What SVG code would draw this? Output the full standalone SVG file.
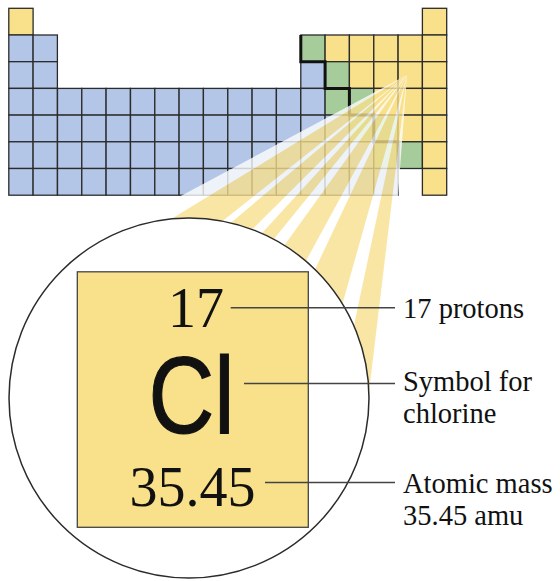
<svg xmlns="http://www.w3.org/2000/svg" width="560" height="581" viewBox="0 0 560 581">
<style>
.c{stroke:#2b2b2b;stroke-width:1.3}
.b{fill:#b3c6e7}
.y{fill:#f9e08b}
.g{fill:#a6cc9c}
.lbl{font-family:"Liberation Serif","Times New Roman",serif;font-size:28.5px;fill:#111}
.big{font-family:"Liberation Serif","Times New Roman",serif;font-size:56px;fill:#111;text-anchor:middle}
.lead{stroke:#444;stroke-width:1.5;fill:none}
</style>
<rect width="560" height="581" fill="#fff"/>
<g id="table">
<g class="c">
<rect class="y" x="8.8" y="8.3" width="24.3" height="26.7"/>
<rect class="y" x="422.4" y="8.3" width="24.3" height="26.7"/>

<rect class="b" x="8.8" y="35" width="24.3" height="26.7"/>
<rect class="b" x="33.1" y="35" width="24.3" height="26.7"/>
<rect class="g" x="300.8" y="35" width="24.3" height="26.7"/>
<rect class="y" x="325.1" y="35" width="24.3" height="26.7"/>
<rect class="y" x="349.4" y="35" width="24.3" height="26.7"/>
<rect class="y" x="373.8" y="35" width="24.3" height="26.7"/>
<rect class="y" x="398.1" y="35" width="24.3" height="26.7"/>
<rect class="y" x="422.4" y="35" width="24.3" height="26.7"/>

<rect class="b" x="8.8" y="61.7" width="24.3" height="26.7"/>
<rect class="b" x="33.1" y="61.7" width="24.3" height="26.7"/>
<rect class="b" x="300.8" y="61.7" width="24.3" height="26.7"/>
<rect class="g" x="325.1" y="61.7" width="24.3" height="26.7"/>
<rect class="y" x="349.4" y="61.7" width="24.3" height="26.7"/>
<rect class="y" x="373.8" y="61.7" width="24.3" height="26.7"/>
<rect class="y" x="398.1" y="61.7" width="24.3" height="26.7"/>
<rect class="y" x="422.4" y="61.7" width="24.3" height="26.7"/>

<rect class="b" x="8.8" y="88.4" width="24.3" height="26.7"/>
<rect class="b" x="33.1" y="88.4" width="24.3" height="26.7"/>
<rect class="b" x="57.5" y="88.4" width="24.3" height="26.7"/>
<rect class="b" x="81.8" y="88.4" width="24.3" height="26.7"/>
<rect class="b" x="106.1" y="88.4" width="24.3" height="26.7"/>
<rect class="b" x="130.5" y="88.4" width="24.3" height="26.7"/>
<rect class="b" x="154.8" y="88.4" width="24.3" height="26.7"/>
<rect class="b" x="179.1" y="88.4" width="24.3" height="26.7"/>
<rect class="b" x="203.4" y="88.4" width="24.3" height="26.7"/>
<rect class="b" x="227.8" y="88.4" width="24.3" height="26.7"/>
<rect class="b" x="252.1" y="88.4" width="24.3" height="26.7"/>
<rect class="b" x="276.4" y="88.4" width="24.3" height="26.7"/>
<rect class="b" x="300.8" y="88.4" width="24.3" height="26.7"/>
<rect class="g" x="325.1" y="88.4" width="24.3" height="26.7"/>
<rect class="g" x="349.4" y="88.4" width="24.3" height="26.7"/>
<rect class="y" x="373.8" y="88.4" width="24.3" height="26.7"/>
<rect class="y" x="398.1" y="88.4" width="24.3" height="26.7"/>
<rect class="y" x="422.4" y="88.4" width="24.3" height="26.7"/>

<rect class="b" x="8.8" y="115.1" width="24.3" height="26.7"/>
<rect class="b" x="33.1" y="115.1" width="24.3" height="26.7"/>
<rect class="b" x="57.5" y="115.1" width="24.3" height="26.7"/>
<rect class="b" x="81.8" y="115.1" width="24.3" height="26.7"/>
<rect class="b" x="106.1" y="115.1" width="24.3" height="26.7"/>
<rect class="b" x="130.5" y="115.1" width="24.3" height="26.7"/>
<rect class="b" x="154.8" y="115.1" width="24.3" height="26.7"/>
<rect class="b" x="179.1" y="115.1" width="24.3" height="26.7"/>
<rect class="b" x="203.4" y="115.1" width="24.3" height="26.7"/>
<rect class="b" x="227.8" y="115.1" width="24.3" height="26.7"/>
<rect class="b" x="252.1" y="115.1" width="24.3" height="26.7"/>
<rect class="b" x="276.4" y="115.1" width="24.3" height="26.7"/>
<rect class="b" x="300.8" y="115.1" width="24.3" height="26.7"/>
<rect class="b" x="325.1" y="115.1" width="24.3" height="26.7"/>
<rect class="g" x="349.4" y="115.1" width="24.3" height="26.7"/>
<rect class="g" x="373.8" y="115.1" width="24.3" height="26.7"/>
<rect class="y" x="398.1" y="115.1" width="24.3" height="26.7"/>
<rect class="y" x="422.4" y="115.1" width="24.3" height="26.7"/>

<rect class="b" x="8.8" y="141.8" width="24.3" height="26.7"/>
<rect class="b" x="33.1" y="141.8" width="24.3" height="26.7"/>
<rect class="b" x="57.5" y="141.8" width="24.3" height="26.7"/>
<rect class="b" x="81.8" y="141.8" width="24.3" height="26.7"/>
<rect class="b" x="106.1" y="141.8" width="24.3" height="26.7"/>
<rect class="b" x="130.5" y="141.8" width="24.3" height="26.7"/>
<rect class="b" x="154.8" y="141.8" width="24.3" height="26.7"/>
<rect class="b" x="179.1" y="141.8" width="24.3" height="26.7"/>
<rect class="b" x="203.4" y="141.8" width="24.3" height="26.7"/>
<rect class="b" x="227.8" y="141.8" width="24.3" height="26.7"/>
<rect class="b" x="252.1" y="141.8" width="24.3" height="26.7"/>
<rect class="b" x="276.4" y="141.8" width="24.3" height="26.7"/>
<rect class="b" x="300.8" y="141.8" width="24.3" height="26.7"/>
<rect class="b" x="325.1" y="141.8" width="24.3" height="26.7"/>
<rect class="b" x="349.4" y="141.8" width="24.3" height="26.7"/>
<rect class="g" x="373.8" y="141.8" width="24.3" height="26.7"/>
<rect class="g" x="398.1" y="141.8" width="24.3" height="26.7"/>
<rect class="y" x="422.4" y="141.8" width="24.3" height="26.7"/>

<rect class="b" x="8.8" y="168.5" width="24.3" height="26.7"/>
<rect class="b" x="33.1" y="168.5" width="24.3" height="26.7"/>
<rect class="b" x="57.5" y="168.5" width="24.3" height="26.7"/>
<rect class="b" x="81.8" y="168.5" width="24.3" height="26.7"/>
<rect class="b" x="106.1" y="168.5" width="24.3" height="26.7"/>
<rect class="b" x="130.5" y="168.5" width="24.3" height="26.7"/>
<rect class="b" x="154.8" y="168.5" width="24.3" height="26.7"/>
<rect class="b" x="179.1" y="168.5" width="24.3" height="26.7"/>
<rect class="b" x="203.4" y="168.5" width="24.3" height="26.7"/>
<rect class="b" x="227.8" y="168.5" width="24.3" height="26.7"/>
<rect class="b" x="252.1" y="168.5" width="24.3" height="26.7"/>
<rect class="b" x="276.4" y="168.5" width="24.3" height="26.7"/>
<rect class="b" x="300.8" y="168.5" width="24.3" height="26.7"/>
<rect class="b" x="325.1" y="168.5" width="24.3" height="26.7"/>
<rect class="b" x="349.4" y="168.5" width="24.3" height="26.7"/>
<rect class="b" x="373.8" y="168.5" width="24.3" height="26.7"/>
<rect class="y" x="422.4" y="168.5" width="24.3" height="26.7"/>
</g>
<path d="M300.8,35 V61.7 H325.1 V88.4 H349.4 V115.1 H373.8 V141.8 H398.1 V168.5" fill="none" stroke="#111" stroke-width="3"/>
</g>
<g id="rays" opacity="0.78">
<polygon fill="#fff" points="407,75 103.2,237.5 104.5,259.7 115.8,305.5 120,315.7 136.3,345.2 146.5,359 162.4,376.4 179.4,391.1 221.8,415.8 242.3,423.2 306.5,431.2 332.2,428.3 365.7,419.2 381.8,412.4"/>
<g fill="#f9e08b">
<polygon points="407,75 104.5,259.7 115.8,305.5"/>
<polygon points="407,75 120,315.7 136.3,345.2"/>
<polygon points="407,75 146.5,359 162.4,376.4"/>
<polygon points="407,75 179.4,391.1 221.8,415.8"/>
<polygon points="407,75 242.3,423.2 306.5,431.2"/>
<polygon points="407,75 332.2,428.3 365.7,419.2"/>
</g>
</g>
<g id="magnifier">
<circle cx="189" cy="398" r="180" fill="#fff" stroke="#2b2b2b" stroke-width="1.5"/>
</g>
<g id="cell-cl">
<rect x="77.3" y="271.8" width="231" height="255.5" fill="#f9e08b" stroke="#444" stroke-width="1.3"/>
<text class="big" x="196" y="326.5">17</text>
<text x="191.5" y="433" font-family="'Liberation Sans',Arial,sans-serif" font-size="109" fill="#111" text-anchor="middle" textLength="86" lengthAdjust="spacingAndGlyphs" stroke="#111" stroke-width="1.2">Cl</text>
<text class="big" x="192.5" y="506">35.45</text>
</g>
<g id="connectors">
<line class="lead" x1="230.7" y1="307.7" x2="395" y2="307.7"/>
<line class="lead" x1="244" y1="383.5" x2="395" y2="383.5"/>
<line class="lead" x1="265" y1="482.5" x2="395" y2="482.5"/>
</g>
<g id="label-protons"><text class="lbl" x="403" y="318.3">17 protons</text></g>
<g id="label-symbol"><text class="lbl" x="403" y="391">Symbol for</text><text class="lbl" x="403" y="422.7">chlorine</text></g>
<g id="label-mass"><text class="lbl" x="403" y="493.3">Atomic mass</text><text class="lbl" x="403" y="525">35.45 amu</text></g>
</svg>
